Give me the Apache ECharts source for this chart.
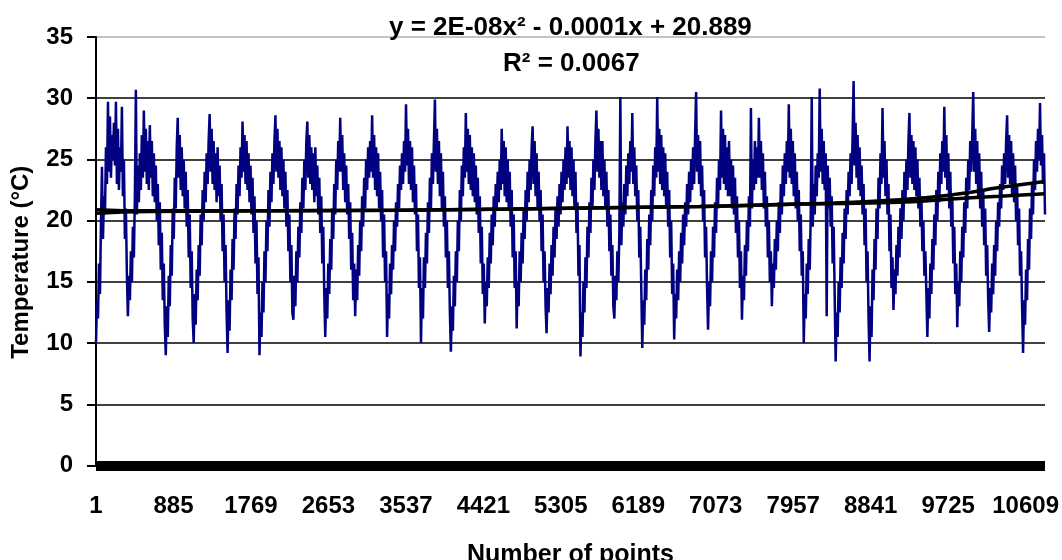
<!DOCTYPE html>
<html>
<head>
<meta charset="utf-8">
<script src="https://cdn.jsdelivr.net/npm/echarts@6/dist/echarts.min.js"></script>
<style>
html,body{margin:0;padding:0;background:#fff;}
#chart{width:1062px;height:560px;}
</style>
</head>
<body>
<div id="chart"></div>
<script>
// ---- data ----
// temperature samples, one every SAMPLE_STEP points; one row per daily cycle (trough -> next trough)
const SAMPLE_STEP = 11.375;
const temperature = [
  10.0,13.5,12.0,16.5,14.0,20.0,24.4,18.5,22.0,20.5,26.0,23.0,29.7,24.0,28.5,23.5,27.0,25.0,28.0,24.5,29.7,23.0,27.5,22.5,26.0,24.0,29.3,22.0,25.0,18.5,21.0,15.5,
  12.2,15.5,13.5,17.5,15.0,19.5,17.0,22.0,30.7,20.5,24.5,21.5,25.5,22.5,27.0,23.5,29.0,24.0,27.5,23.0,26.5,22.5,27.8,23.5,26.5,22.0,25.5,21.5,24.5,20.0,23.0,18.0,21.5,16.0,19.0,13.5,16.5,11.5,
  9.0,13.0,10.5,15.5,13.0,18.0,15.5,21.0,18.5,23.5,21.0,26.0,28.4,23.5,27.0,22.5,26.0,22.0,25.0,21.0,24.0,19.5,22.5,17.0,20.5,14.5,17.5,12.0,
  10.0,14.0,11.5,16.0,13.5,18.0,15.5,20.5,18.0,22.5,20.0,24.0,21.5,25.5,23.0,26.5,28.7,24.0,27.5,23.0,26.5,22.5,25.5,21.5,26.0,22.0,24.5,20.0,23.0,17.5,20.5,15.0,18.0,12.5,
  9.2,13.5,11.0,16.0,13.5,18.5,16.0,21.0,18.5,23.0,20.5,24.5,22.0,26.0,23.5,28.1,24.0,27.0,23.0,26.5,22.5,25.5,21.5,24.5,20.5,23.5,19.0,22.0,16.5,20.0,14.0,17.0,
  9.0,12.5,10.5,15.0,12.5,17.5,15.0,20.0,17.5,22.5,19.5,24.0,21.5,25.5,23.0,26.5,28.6,24.0,27.5,23.5,26.5,22.5,26.0,22.0,25.0,21.0,24.0,19.5,22.5,17.5,20.5,15.0,18.0,12.5,
  11.9,15.5,13.0,17.5,15.0,19.5,17.0,21.5,19.0,23.5,21.0,25.0,22.5,26.5,28.1,23.5,27.0,23.0,26.0,22.5,25.5,21.5,26.0,22.0,24.5,20.5,23.5,19.0,22.0,16.5,19.5,14.0,
  10.5,14.5,12.0,16.5,14.0,18.5,16.0,21.0,18.5,23.0,20.5,25.0,22.5,26.5,24.0,28.4,24.0,27.0,22.5,25.5,21.5,24.5,20.5,23.0,18.5,21.5,16.0,19.0,13.5,16.5,
  12.2,16.0,13.5,18.0,15.5,20.0,17.5,22.0,19.5,23.5,21.0,25.0,22.5,26.0,23.5,26.5,24.0,28.6,23.5,27.0,22.5,26.0,22.0,25.5,21.0,24.0,20.0,22.5,17.0,20.5,15.0,17.5,
  10.5,14.0,12.0,16.5,14.0,18.0,16.0,20.0,17.5,21.5,19.5,23.0,21.0,24.5,22.5,25.5,23.0,26.5,24.0,29.5,24.5,27.5,23.0,26.5,22.5,26.0,21.5,24.5,20.5,23.0,17.5,20.5,14.5,17.0,
  10.0,14.5,12.0,17.0,14.5,19.0,16.5,21.5,19.0,23.5,21.0,25.5,23.0,26.5,29.9,24.0,27.5,23.0,26.5,22.0,25.5,21.0,24.0,19.5,22.0,17.0,20.0,14.5,17.5,12.5,
  9.3,13.0,11.0,15.5,13.0,17.5,15.0,20.0,17.5,22.5,20.0,24.5,22.0,26.0,23.5,28.8,24.0,27.5,23.0,27.0,22.5,26.0,22.0,25.5,21.5,24.5,20.5,23.5,19.0,22.0,16.5,19.5,14.0,16.5,
  11.6,15.0,13.0,17.0,14.5,19.0,16.5,20.5,18.0,22.0,19.5,23.0,21.0,24.0,21.5,25.0,22.5,27.5,23.0,26.5,22.0,26.0,21.5,25.0,21.0,24.0,19.5,22.5,17.0,20.5,14.5,17.5,
  11.2,15.0,13.0,17.5,15.0,19.0,16.5,21.0,18.5,22.5,20.0,24.0,21.5,25.0,22.5,26.0,27.7,23.0,26.5,22.0,25.5,21.0,24.0,20.0,22.5,17.5,20.5,15.0,17.5,13.0,
  10.8,14.5,12.5,16.5,14.0,18.0,15.5,19.5,17.0,21.0,18.5,22.0,19.5,23.0,20.5,24.0,21.5,25.0,22.5,26.0,23.0,27.7,23.5,26.5,22.5,26.0,22.0,25.0,21.0,24.0,19.0,21.5,15.5,18.0,
  8.9,12.5,10.5,15.0,12.5,17.0,14.5,19.5,17.0,21.5,19.0,23.5,21.0,25.0,22.5,26.5,29.0,24.0,27.5,23.5,26.5,22.5,26.5,22.0,25.0,21.0,24.0,19.5,22.5,17.5,20.5,15.5,18.0,13.0,
  12.0,15.5,13.5,17.5,15.0,19.0,30.1,18.0,21.5,19.5,23.0,20.5,24.5,22.0,25.5,23.0,26.5,24.0,28.8,23.0,26.0,22.0,24.5,20.0,22.5,17.0,19.5,14.5,
  9.6,13.5,11.5,16.0,13.5,18.5,16.0,20.5,18.0,22.5,20.0,24.5,22.0,26.0,23.5,30.1,24.0,27.5,23.0,27.0,22.5,26.0,22.0,25.5,21.0,24.0,19.5,22.5,17.0,20.0,14.0,16.5,
  10.3,14.0,12.0,16.0,13.5,17.5,15.0,19.0,16.5,20.5,18.0,21.5,19.5,23.0,20.5,24.0,21.5,25.0,22.5,26.0,23.0,27.0,30.5,24.0,27.0,23.0,26.5,22.0,24.5,20.0,22.5,17.0,19.5,14.5,
  11.1,15.0,13.0,17.5,15.0,19.5,17.0,21.5,19.0,23.5,21.0,25.0,22.5,29.0,23.5,27.5,23.0,27.0,22.5,26.0,22.0,26.5,22.0,25.0,21.0,24.5,20.5,23.5,19.0,22.0,17.0,20.0,14.5,17.5,
  11.9,15.5,13.5,18.0,15.5,20.0,17.5,22.0,19.5,29.2,21.0,25.0,22.5,26.5,23.0,26.0,23.5,28.4,23.5,26.5,22.5,25.5,21.0,24.0,19.5,22.0,17.0,20.0,15.0,17.5,
  13.0,16.5,14.5,18.5,16.0,20.0,17.5,21.5,19.0,23.0,20.5,24.5,22.0,25.5,23.0,26.5,24.0,29.5,23.5,27.5,23.0,26.5,22.0,25.5,21.0,24.0,20.0,22.5,17.5,20.5,15.5,17.5,
  10.0,14.0,12.0,16.5,14.0,18.5,16.0,20.5,30.1,19.5,23.0,20.5,24.5,22.0,25.5,23.5,30.8,24.0,27.5,23.0,26.5,22.5,25.5,12.2,24.5,21.0,23.5,19.5,22.0,16.5,19.5,14.0,
  8.5,12.5,10.5,15.0,12.5,17.0,14.5,19.0,16.5,21.0,18.5,22.5,20.5,24.0,22.0,25.5,23.0,27.0,31.4,24.5,28.0,23.5,27.0,22.5,26.0,22.0,24.5,20.5,23.0,18.0,21.0,15.0,17.5,12.0,
  8.5,13.0,10.5,16.0,13.5,18.5,16.0,21.0,18.5,23.5,21.0,25.5,23.0,29.2,23.5,26.5,22.0,25.0,20.5,23.0,17.5,20.5,14.5,17.0,
  12.7,16.0,14.0,18.0,15.5,19.5,17.0,21.0,18.5,22.5,20.0,24.0,21.5,25.0,22.5,26.5,28.8,23.5,27.0,23.0,26.5,22.5,26.0,22.0,25.0,21.0,23.5,19.5,22.0,17.5,20.0,15.5,17.5,14.0,
  10.5,14.5,12.0,16.5,14.0,18.5,16.0,20.5,18.0,22.5,20.0,24.0,21.5,25.5,23.0,26.5,24.0,29.3,23.5,27.0,22.5,25.5,21.0,24.0,19.5,22.0,16.5,19.5,14.0,16.5,
  11.3,15.0,13.0,17.5,15.0,19.5,17.0,21.5,19.0,23.5,21.0,25.0,22.5,26.5,24.0,27.0,30.5,24.0,27.5,23.0,26.5,22.0,25.5,21.0,24.0,19.5,22.5,18.0,21.0,15.5,18.0,13.5,
  10.9,14.5,12.5,16.5,14.0,18.0,15.5,20.0,17.5,21.5,19.5,23.0,21.0,24.5,22.5,25.5,23.0,26.5,28.6,23.5,27.0,23.0,26.5,22.0,25.5,21.5,24.5,20.0,23.0,18.0,21.0,15.5,17.5,13.0,
  9.2,13.5,11.5,16.0,13.5,18.5,16.0,21.0,18.5,23.0,20.5,25.0,22.5,26.5,24.0,27.5,25.0,29.6,24.5,27.0,23.0,25.5,20.5
];
// the two black trend curves, read at a few positions (point index)
const trendPoints = [0, 616, 3469, 5180, 6890, 8031, 9171, 9856, 10312, 10825];
const trendUpper  = [20.9, 20.8, 20.85, 21.0, 21.15, 21.35, 21.7, 22.2, 22.7, 23.2];
const trendLower  = [20.6, 20.75, 20.85, 21.0, 21.15, 21.35, 21.5, 21.8, 22.0, 22.2];
const X_LABEL_STEP = 884;
const yTicks = [0, 5, 10, 15, 20, 25, 30, 35];
const equationText = 'y = 2E-08x² - 0.0001x + 20.889';
const r2Text = 'R² = 0.0067';

// ---- chart ----
const FONT = "'Liberation Sans', Arial, sans-serif";
const tempData = temperature.map((v, i) => [i * SAMPLE_STEP, v]);
const xMax = (temperature.length - 1) * SAMPLE_STEP;
const upperData = trendPoints.map((x, i) => [x, trendUpper[i]]);
const lowerData = trendPoints.map((x, i) => [x, trendLower[i]]);

const chart = echarts.init(document.getElementById('chart'), null, {renderer: 'canvas'});
chart.setOption({
  animation: false,
  backgroundColor: '#fff',
  grid: {left: 96, right: 17, top: 37, bottom: 94.5, containLabel: false, outerBoundsMode: 'none'},
  xAxis: {
    type: 'value',
    min: 0,
    max: xMax,
    interval: X_LABEL_STEP,
    offset: 6,
    name: 'Number of points',
    nameLocation: 'middle',
    nameGap: 71,
    nameTextStyle: {fontFamily: FONT, fontWeight: 'bold', fontSize: 25, color: '#000'},
    axisLine: {show: true, lineStyle: {color: '#000', width: 10, cap: 'butt'}},
    axisTick: {show: false},
    splitLine: {show: false},
    axisLabel: {
      fontFamily: FONT, fontWeight: 'bold', fontSize: 24, color: '#000', margin: 23,
      showMaxLabel: false,
      formatter: v => String(Math.round(v) + 1)
    }
  },
  yAxis: {
    type: 'value',
    min: yTicks[0],
    max: yTicks[yTicks.length - 1],
    interval: 5,
    name: 'Temperature (°C)',
    nameLocation: 'middle',
    nameGap: 63,
    nameTextStyle: {fontFamily: FONT, fontWeight: 'bold', fontSize: 24, color: '#000', padding: [0, 22, 0, 0]},
    axisLine: {show: true, lineStyle: {color: '#000', width: 2}},
    axisTick: {show: true, inside: false, length: 9, lineStyle: {color: '#000', width: 2}},
    axisLabel: {fontFamily: FONT, fontWeight: 'bold', fontSize: 24, color: '#000', margin: 23},
    splitLine: {show: true, lineStyle: {color: ['#000','#000','#000','#000','#000','#000','#000','#b0b0b0'], width: 1.5}}
  },
  graphic: [
    {type: 'text', left: 389, top: 15, z: 10,
     style: {text: equationText, font: 'bold 26px ' + FONT, fill: '#000'}},
    {type: 'text', left: 503, top: 51, z: 10,
     style: {text: r2Text, font: 'bold 26px ' + FONT, fill: '#000'}}
  ],
  series: [
    {type: 'line', data: tempData, showSymbol: false, symbol: 'none',
     lineStyle: {color: '#000080', width: 2.5}, itemStyle: {color: '#000080'}, z: 2},
    {type: 'line', data: upperData, showSymbol: false, symbol: 'none', smooth: true,
     lineStyle: {color: '#000', width: 3.5}, z: 3},
    {type: 'line', data: lowerData, showSymbol: false, symbol: 'none', smooth: true,
     lineStyle: {color: '#000', width: 3.5}, z: 3}
  ]
});
</script>
</body>
</html>
